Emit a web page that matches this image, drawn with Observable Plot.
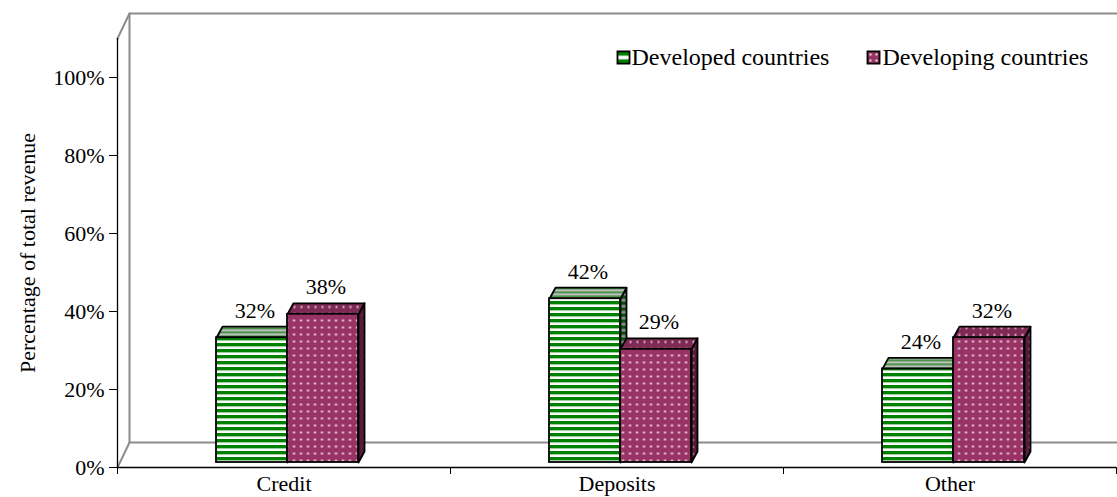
<!DOCTYPE html>
<html><head><meta charset="utf-8">
<script src="https://cdn.jsdelivr.net/npm/d3@7"></script>
<script src="https://cdn.jsdelivr.net/npm/@observablehq/plot@0.6"></script>
<style>body{margin:0;background:#fff;} #chart{width:1117px;height:497px;}</style>
</head><body><div id="chart"></div>
<script>
// ---- data ----
const categories = ["Credit", "Deposits", "Other"];
const series = ["Developed countries", "Developing countries"];
const developed = [32, 42, 24];
const developing = [38, 29, 32];
const yTicks = [0, 20, 40, 60, 80, 100];
const yTickLabels = ["0%", "20%", "40%", "60%", "80%", "100%"];
const yTitle = "Percentage of total revenue";

// ---- layout ----
const W = 1117, H = 497, mL = 117, mR = 1, mT = 38, mB = 30;
const xDomain = [-0.5, 2.5], yDomain = [0, 110];
const kx = (xDomain[1] - xDomain[0]) / (W - mL - mR);   // data units per px
const ky = (yDomain[1] - yDomain[0]) / (H - mT - mB);
const barW = 71 * kx;
const depX = 6 * kx, depY = 11 * ky;      // bar depth
const wallX = 12 * kx, wallY = 25 * ky;   // wall depth
const BDX = 3.5, BDY = -5;                // bar offset into depth (px)
const FONT = "'Liberation Serif', 'Times New Roman', serif";
const SW = 1.8;

const bars = [];
categories.forEach((c, i) => {
  bars.push({cat: c, i, s: 0, v: developed[i], x1: i - barW, x2: i});
  bars.push({cat: c, i, s: 1, v: developing[i], x1: i, x2: i + barW});
});
const poly = (b, pts) => pts.map(([x, y]) => ({x, y, id: b.cat + "-" + b.s, s: b.s}));
const topFace = b => poly(b, [[b.x1, b.v], [b.x2, b.v], [b.x2 + depX, b.v + depY], [b.x1 + depX, b.v + depY], [b.x1, b.v]]);
const sideFace = b => poly(b, [[b.x2, 0], [b.x2, b.v], [b.x2 + depX, b.v + depY], [b.x2 + depX, depY], [b.x2, 0]]);

const fills = [
  {front: "url(#gFront)", top: "url(#gTop)", side: "url(#gSide)", legend: "url(#gLeg)"},
  {front: "url(#pFront)", top: "url(#pTop)", side: "url(#pSide)", legend: "url(#pLeg)"}
];

const x0 = xDomain[0], x1 = xDomain[1], yMax = yDomain[1];
const wallLines = [
  [[x0, 0], [x0 + wallX, wallY], [x1 + wallX, wallY]],
  [[x0 + wallX, wallY], [x0 + wallX, yMax + wallY]],
  [[x0, yMax], [x0 + wallX, yMax + wallY], [x1 + wallX, yMax + wallY]]
].flatMap((pts, k) => pts.map(([x, y]) => ({x, y, id: k})));

const barMarks = [];
[0, 1].forEach(s => {
  const bs = bars.filter(b => b.s === s);
  barMarks.push(
    Plot.line(bs.flatMap(sideFace), {x: "x", y: "y", z: "id", fill: fills[s].side, stroke: "black", strokeWidth: SW, strokeLinejoin: "round", dx: BDX, dy: BDY}),
    Plot.line(bs.flatMap(topFace), {x: "x", y: "y", z: "id", fill: fills[s].top, stroke: "black", strokeWidth: SW, strokeLinejoin: "round", dx: BDX, dy: BDY}),
    Plot.rect(bs, {x1: "x1", x2: "x2", y1: 0, y2: "v", fill: fills[s].front, stroke: "black", strokeWidth: SW, dx: BDX, dy: BDY})
  );
});

const plot = Plot.plot({
  width: W, height: H,
  marginLeft: mL, marginRight: mR, marginTop: mT, marginBottom: mB,
  style: {fontFamily: FONT, fontSize: "22px", color: "black", background: "white", overflow: "visible"},
  x: {type: "linear", domain: xDomain},
  y: {domain: yDomain},
  marks: [
    Plot.line(wallLines, {x: "x", y: "y", z: "id", stroke: "#8c8c8c", strokeWidth: 2}),
    Plot.ruleX([x0], {y1: 0, y2: yMax, stroke: "black", strokeWidth: 1.3}),
    Plot.ruleY([0], {x1: x0, x2: x1, stroke: "black", strokeWidth: 1.3}),
    Plot.axisY({ticks: yTicks, tickFormat: d => yTickLabels[yTicks.indexOf(d)], tickSize: 8, tickPadding: 5, fontSize: 22, label: null, stroke: "black"}),
    Plot.axisX({ticks: [-0.5, 0.5, 1.5, 2.5], tickSize: 7, tickFormat: () => "", label: null, stroke: "black"}),
    Plot.axisX({ticks: [0, 1, 2], tickSize: 0, tickPadding: 8, tickFormat: i => categories[i], fontSize: 22, label: null}),
    Plot.text([yTitle], {x: x0, y: yMax / 2, text: d => d, rotate: -90, dx: -90, fontSize: 22}),
    ...barMarks,
    Plot.text(bars, {x: d => (d.x1 + d.x2) / 2, y: "v", text: d => d.v + "%", dx: BDX + 3, dy: BDY - 27, fontSize: 22}),
    // legend
    Plot.dot([series[0]], {frameAnchor: "top-left", dx: 506, dy: 19, symbol: "square", r: 6.8, fill: fills[0].legend, stroke: "black", strokeWidth: 1.8}),
    Plot.text([series[0]], {frameAnchor: "top-left", dx: 514, dy: 19, text: d => d, textAnchor: "start", lineAnchor: "middle", fontSize: 24}),
    Plot.dot([series[1]], {frameAnchor: "top-left", dx: 756, dy: 19, symbol: "square", r: 6.8, fill: fills[1].legend, stroke: "black", strokeWidth: 1.8}),
    Plot.text([series[1]], {frameAnchor: "top-left", dx: 765, dy: 19, text: d => d, textAnchor: "start", lineAnchor: "middle", fontSize: 24})
  ]
});

// ---- patterns ----
const defs = d3.select(plot).insert("defs", ":first-child");
function stripes(id, h, fg, bg, fgH, extra) {
  const p = defs.append("pattern").attr("id", id).attr("patternUnits", "userSpaceOnUse").attr("width", 8).attr("height", h);
  p.append("rect").attr("width", 8).attr("height", h).attr("fill", bg);
  p.append("rect").attr("width", 8).attr("height", fgH).attr("fill", fg);
  if (extra) p.append("rect").attr("y", fgH).attr("width", 8).attr("height", 0.7).attr("fill", extra);
}
function dots(id, s, bg, fg, r) {
  const p = defs.append("pattern").attr("id", id).attr("patternUnits", "userSpaceOnUse").attr("width", s).attr("height", s);
  p.append("rect").attr("width", s).attr("height", s).attr("fill", bg);
  p.append("rect").attr("x", s / 2 - r / 2).attr("y", s / 2 - r / 2).attr("width", r).attr("height", r).attr("fill", fg);
}
stripes("gFront", 6, "#008000", "#ffffff", 3.4, "#9fd09f");
stripes("gTop", 4, "#2e8b2e", "#bdbdbd", 1.6);
stripes("gSide", 6, "#0a4f0a", "#8a9a8a", 3.4);
// legend green: green with a white band through the middle
{
  const p = defs.append("pattern").attr("id", "gLeg").attr("patternUnits", "userSpaceOnUse").attr("width", 12).attr("height", 12);
  p.append("rect").attr("width", 12).attr("height", 12).attr("fill", "#008000");
  p.append("rect").attr("y", 0).attr("width", 12).attr("height", 1.8).attr("fill", "#ffffff");
  p.append("rect").attr("y", 10.2).attr("width", 12).attr("height", 1.8).attr("fill", "#ffffff");
}
dots("pFront", 7, "#993366", "#f3dbe7", 2);
dots("pTop", 7, "#7e2a55", "#e2c2d2", 2);
dots("pSide", 7, "#561d3a", "#b493a4", 1.6);
dots("pLeg", 6, "#993366", "#f3dbe7", 2);

document.getElementById("chart").appendChild(plot);
</script>
</body></html>
